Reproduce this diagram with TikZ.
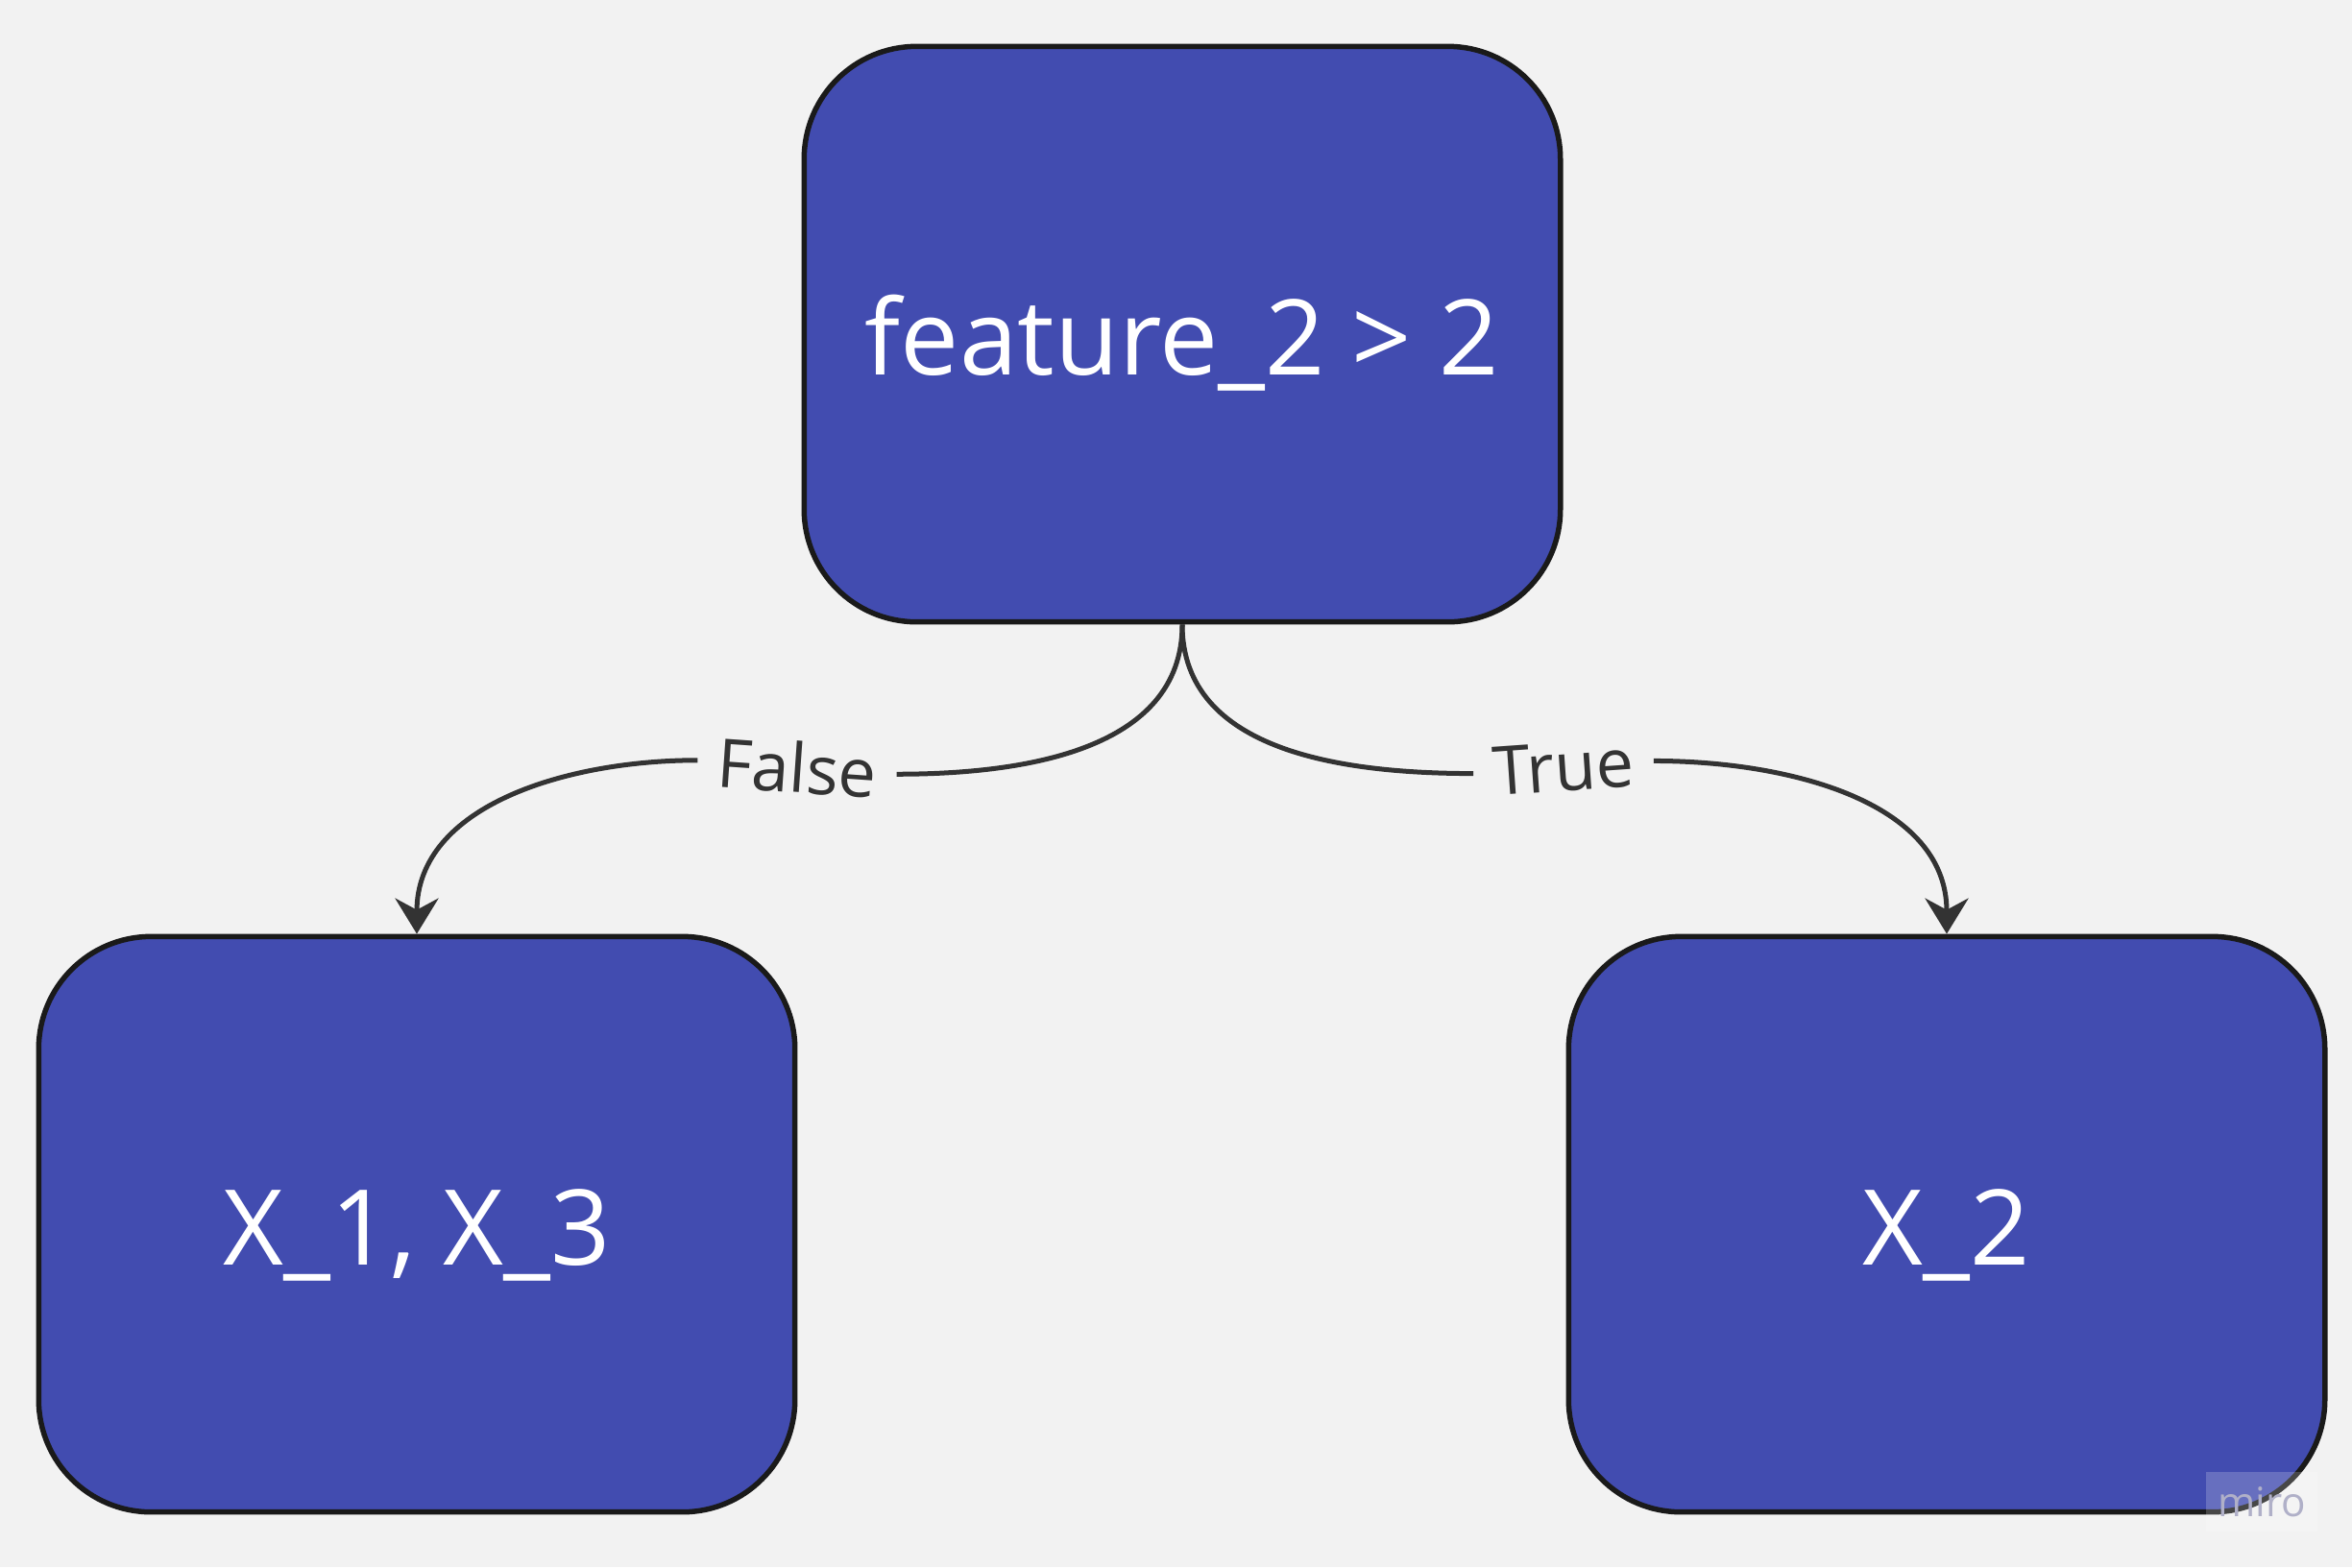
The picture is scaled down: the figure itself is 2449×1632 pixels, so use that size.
\documentclass[tikz,border=0pt]{standalone}
\usepackage{fontspec}
\setmainfont{Open Sans}
\usetikzlibrary{arrows.meta}
\definecolor{boxblue}{RGB}{66,76,176}
\definecolor{bgrey}{RGB}{242,242,242}
\definecolor{edgegrey}{RGB}{51,51,51}
\definecolor{rimblack}{RGB}{26,26,26}
\definecolor{wmgrey}{RGB}{176,176,200}

\begin{document}
\begin{tikzpicture}[x=0.01cm,y=-0.01cm,
        box/.style={draw=rimblack,line width=0.055cm,fill=boxblue,rounded corners=1.17cm,
            minimum width=7.87cm,minimum height=5.99cm,text=white,
            text height=0.84cm,text depth=0cm,font=\fontsize{31}{37}\selectfont},
        branch/.style={fill=bgrey,text=edgegrey,inner xsep=0.2cm,inner ysep=0.05cm,
            font=\fontsize{20}{24}\selectfont},
        edge/.style={draw=edgegrey,line width=0.05cm}]
            \fill[bgrey] (0,0) rectangle (2449,1632);
            \node[box] (root) at (1231,348) {feature\_2 > 2};
            \node[box] (lf) at (434,1275) {X\_1, X\_3};
            \node[box] (rt) at (2027,1275) {X\_2};
            \node[branch,rotate=-4] (fl) at (830,799) {False};
            \node[branch,rotate=4] (tr) at (1628,799) {True};
            \draw[edge] (root.south) to[out=-90,in=0] (fl.east);
            \draw[edge,-{Stealth[length=0.37cm,width=0.45cm]}] (fl.west) to[out=180,in=90] (lf.north);
            \draw[edge] (root.south) to[out=-90,in=180] (tr.west);
            \draw[edge,-{Stealth[length=0.37cm,width=0.45cm]}] (tr.east) to[out=0,in=90] (rt.north);
            \node[fill=white,fill opacity=0.2,text=wmgrey,text opacity=1,minimum width=1.16cm,
                minimum height=0.62cm,font=\fontsize{12}{14}\selectfont] (wm) at (2355,1564) {miro};
\end{tikzpicture}
\end{document}
